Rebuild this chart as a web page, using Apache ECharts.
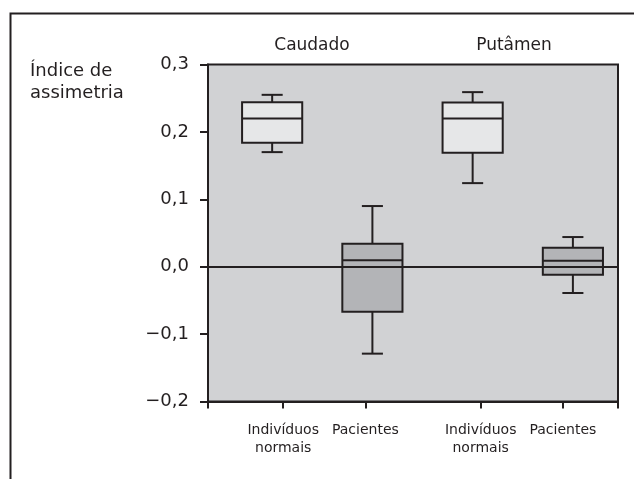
<!DOCTYPE html>
<html>
<head>
<meta charset="utf-8">
<script src="https://cdn.jsdelivr.net/npm/echarts@6/dist/echarts.min.js"></script>
<style>
html,body{margin:0;padding:0;background:#fff;}
#chart{width:634px;height:479px;}
</style>
</head>
<body>
<div id="chart"></div>
<script>
// ---- data ----
const groupTitles = ['Caudado', 'Putâmen'];
const categories = ['Indivíduos\nnormais', 'Pacientes', 'Indivíduos\nnormais', 'Pacientes'];
const boxKinds = ['normal', 'patient', 'normal', 'patient'];
const boxPositions = [1, 2, 3, 4];
const whiskerMin = [0.170, -0.129, 0.124, -0.039];
const quartile1 = [0.184, -0.067, 0.169, -0.012];
const medians = [0.220, 0.0095, 0.220, 0.009];
const quartile3 = [0.244, 0.034, 0.2436, 0.028];
const whiskerMax = [0.255, 0.090, 0.259, 0.044];
const labelPositions = [1.11, 1.93, 3.08, 3.90];
const yTicks = [-0.2, -0.1, 0.0, 0.1, 0.2, 0.3];

const X_MIN = 0.36, X_MAX = 4.45;
const INK = '#231f20';
const FONT = 'DejaVu Sans';

const boxData = boxPositions.map((x, i) => [x, whiskerMin[i], quartile1[i], medians[i], quartile3[i], whiskerMax[i]]);

const chart = echarts.init(document.getElementById('chart'));
chart.setOption({
  animation: false,
  backgroundColor: '#ffffff',
  title: [{
    text: 'Índice de\nassimetria',
    left: 25, top: 55,
    textStyle: { fontFamily: FONT, fontSize: 18, lineHeight: 22, fontWeight: 'normal', color: INK }
  }],
  graphic: [
    { type: 'rect', left: 8, top: 11, shape: { width: 700, height: 600 }, style: { fill: 'none', stroke: INK, lineWidth: 2 }, silent: true, z: 100 },
    { type: 'text', x: 312, y: 46, style: { text: groupTitles[0], fontFamily: FONT, fontSize: 17, fill: INK, textAlign: 'center', textVerticalAlign: 'middle' } },
    { type: 'text', x: 514, y: 46, style: { text: groupTitles[1], fontFamily: FONT, fontSize: 17, fill: INK, textAlign: 'center', textVerticalAlign: 'middle' } }
  ],
  grid: {
    left: 208, right: 16, top: 64.5, bottom: 77.5,
    show: true, backgroundColor: '#d1d2d4', borderColor: INK, borderWidth: 2
  },
  xAxis: {
    type: 'value', min: X_MIN, max: X_MAX,
    axisLine: { show: true, onZero: false, lineStyle: { color: INK, width: 2 } },
    axisTick: { show: true, length: 7, lineStyle: { color: INK, width: 2 }, customValues: [X_MIN].concat(labelPositions, [X_MAX]) },
    axisLabel: {
      show: true, margin: 20, fontFamily: FONT, fontSize: 14, lineHeight: 18, color: INK,
      customValues: labelPositions,
      formatter: function (v) {
        let best = 0;
        labelPositions.forEach((p, i) => { if (Math.abs(p - v) < Math.abs(labelPositions[best] - v)) best = i; });
        return categories[best];
      }
    },
    splitLine: { show: false }
  },
  yAxis: {
    type: 'value', min: -0.2, max: 0.3, interval: 0.1,
    axisLine: { show: true, onZero: false, lineStyle: { color: INK, width: 2 } },
    axisTick: { show: true, length: 8, lineStyle: { color: INK, width: 2 } },
    axisLabel: {
      margin: 19, fontFamily: FONT, fontSize: 18, color: INK,
      formatter: function (v) { return v.toFixed(1).replace('.', ',').replace('-', '\u2212'); }
    },
    splitLine: { show: false }
  },
  series: [{
    type: 'custom',
    data: boxData,
    encode: { x: 0, y: [1, 2, 3, 4, 5] },
    renderItem: function (params, api) {
      const x = api.value(0);
      const pMin = api.coord([x, api.value(1)]);
      const pQ1 = api.coord([x, api.value(2)]);
      const pMed = api.coord([x, api.value(3)]);
      const pQ3 = api.coord([x, api.value(4)]);
      const pMax = api.coord([x, api.value(5)]);
      const cx = pMed[0];
      const hb = api.size([0.6, 0])[0] / 2;
      const hc = api.size([0.21, 0])[0] / 2;
      const fill = boxKinds[params.dataIndex] === 'normal' ? '#e6e7e8' : '#b3b4b7';
      const ls = { stroke: INK, lineWidth: 2 };
      return {
        type: 'group',
        children: [
          { type: 'line', shape: { x1: cx, y1: pMax[1], x2: cx, y2: pQ3[1] }, style: ls },
          { type: 'line', shape: { x1: cx - hc, y1: pMax[1], x2: cx + hc, y2: pMax[1] }, style: ls },
          { type: 'line', shape: { x1: cx, y1: pQ1[1], x2: cx, y2: pMin[1] }, style: ls },
          { type: 'line', shape: { x1: cx - hc, y1: pMin[1], x2: cx + hc, y2: pMin[1] }, style: ls },
          { type: 'rect', shape: { x: cx - hb, y: pQ3[1], width: hb * 2, height: pQ1[1] - pQ3[1] }, style: { fill: fill, stroke: INK, lineWidth: 2 } },
          { type: 'line', shape: { x1: cx - hb, y1: pMed[1], x2: cx + hb, y2: pMed[1] }, style: ls }
        ]
      };
    },
    markLine: {
      silent: true, symbol: 'none', label: { show: false },
      lineStyle: { color: INK, width: 2, type: 'solid', opacity: 1 },
      emphasis: { disabled: true },
      data: [{ yAxis: 0 }]
    },
    z: 2
  }]
});
</script>
</body>
</html>
